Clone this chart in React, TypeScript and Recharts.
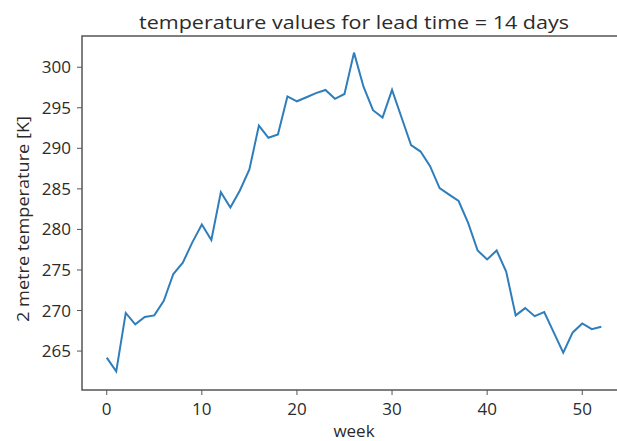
import React from "react";
import {
  LineChart,
  Line,
  XAxis,
  YAxis,
  ReferenceArea,
} from "recharts";

// weekly 2 m temperature, lead time 14 days
const weeks = Array.from({ length: 53 }, (_, i) => i);
const temperature = [
  264.2, 262.5, 269.7, 268.3, 269.2, 269.4, 271.2, 274.5, 275.9, 278.4,
  280.6, 278.7, 284.6, 282.7, 284.8, 287.4, 292.8, 291.3, 291.7, 296.4,
  295.8, 296.3, 296.8, 297.2, 296.1, 296.7, 301.8, 297.6, 294.7, 293.8,
  297.2, 293.8, 290.4, 289.6, 287.8, 285.1, 284.3, 283.5, 280.8, 277.4,
  276.3, 277.4, 274.8, 269.4, 270.3, 269.3, 269.8, 267.3, 264.8, 267.3,
  268.4, 267.7, 268.0,
];
const xTicks = [0, 10, 20, 30, 40, 50];
const yTicks = [265, 270, 275, 280, 285, 290, 295, 300];

const title = "temperature values for lead time = 14 days";
const xLabel = "week";
const yLabel = "2 metre temperature [K]";

const data = weeks.map((w, i) => ({ week: w, temp: temperature[i] }));

const xDomain = [-2.6, 54.6];
const yDomain = [260.2, 303.85];

const font = "'Open Sans', sans-serif";
const textColor = "#2b2b2b";
const tickStyle = { fontSize: 17, fill: textColor, fontFamily: font };

export default function App() {
  return (
    <div
      style={{
        position: "absolute",
        left: 0,
        top: 0,
        width: 617,
        height: 441,
        overflow: "hidden",
        background: "#fff",
      }}
    >
      <LineChart
        width={630}
        height={441}
        data={data}
        margin={{ top: 36, right: 4, left: 0, bottom: 0 }}
      >
        <XAxis
          dataKey="week"
          type="number"
          domain={xDomain}
          ticks={xTicks}
          allowDataOverflow
          height={51}
          tickSize={5}
          tickMargin={8}
          tick={tickStyle}
          stroke="#555"
          tickLine={{ stroke: "#555" }}
          axisLine={false}
        />
        <YAxis
          type="number"
          domain={yDomain}
          ticks={yTicks}
          allowDataOverflow
          width={82}
          tickSize={5}
          tickMargin={6}
          tick={tickStyle}
          stroke="#555"
          tickLine={{ stroke: "#555" }}
          axisLine={false}
        />
        <ReferenceArea
          x1={xDomain[0]}
          x2={xDomain[1]}
          y1={yDomain[0]}
          y2={yDomain[1]}
          fill="none"
          stroke="#555"
          strokeWidth={1.5}
          ifOverflow="visible"
        />
        <Line
          type="linear"
          dataKey="temp"
          stroke="#2f7ebc"
          strokeWidth={2}
          dot={false}
          isAnimationActive={false}
        />
      </LineChart>
      <svg
        width={617}
        height={441}
        style={{ position: "absolute", left: 0, top: 0, pointerEvents: "none" }}
        fontFamily={font}
        fill={textColor}
      >
        <text
          x={354}
          y={29}
          fontSize={17.5}
          textAnchor="middle"
          textLength={430}
          lengthAdjust="spacingAndGlyphs"
        >
          {title}
        </text>
        <text
          x={0}
          y={0}
          fontSize={17}
          textAnchor="middle"
          textLength={206}
          lengthAdjust="spacingAndGlyphs"
          transform="translate(29 219) rotate(-90)"
        >
          {yLabel}
        </text>
        <text x={354} y={437} fontSize={17} textAnchor="middle">
          {xLabel}
        </text>
      </svg>
    </div>
  );
}
